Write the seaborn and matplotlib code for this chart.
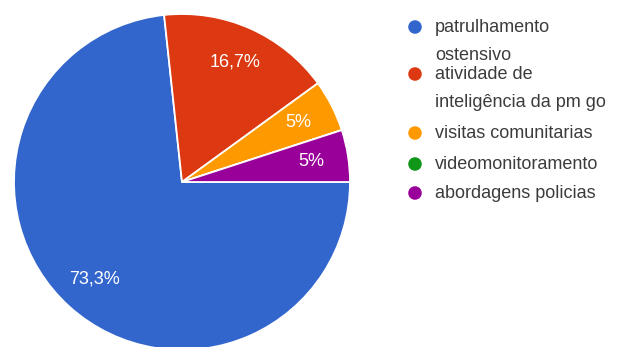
import matplotlib
matplotlib.use("Agg")
import matplotlib.pyplot as plt
import seaborn as sns

# ---- data ----
categories = ["patrulhamento\nostensivo", "atividade de\ninteligência da pm go",
              "visitas comunitarias", "videomonitoramento", "abordagens policias"]
values = [73.3, 16.7, 5.0, 0.0, 5.0]
pct_labels = ["73,3%", "16,7%", "5%", "", "5%"]
colors = ["#3366CC", "#DC3912", "#FF9900", "#109618", "#990099"]

sns.set_theme(style="white")
plt.rcParams["font.family"] = ["Liberation Sans", "DejaVu Sans"]

W, H = 620, 347
fig = plt.figure(figsize=(W / 100, H / 100), dpi=100)
fig.patch.set_facecolor("white")

# pie axes: centre (182,182) px from top-left, radius 168 px
cx, cy, r = 182, 182, 168
ax = fig.add_axes([(cx - r) / W, (H - cy - r) / H, 2 * r / W, 2 * r / H])

label_iter = iter(pct_labels)
def fmt(p):
    return next(label_iter)

wedges, texts, autotexts = ax.pie(
    values, colors=sns.color_palette(colors), startangle=0, counterclock=False,
    radius=1, autopct=fmt, pctdistance=0.78,
    wedgeprops=dict(edgecolor="white", linewidth=1.3),
    textprops=dict(color="white", fontsize=13))
ax.set_xlim(-1, 1)
ax.set_ylim(-1, 1)
ax.set_aspect("equal")
ax.axis("off")

# legend drawn in pixel coordinates
lax = fig.add_axes([0, 0, 1, 1])
lax.set_xlim(0, W)
lax.set_ylim(H, 0)
lax.axis("off")
rows = [27, 74, 133, 164, 193]
for lab, col, y in zip(categories, colors, rows):
    lax.scatter([415], [y], s=95, color=col, edgecolor="none")
    lax.text(435, y - 8.5, lab, fontsize=13, color="#3c3c3c", va="top",
             linespacing=1.85)

fig.savefig("out.png", dpi=100, facecolor="white")
